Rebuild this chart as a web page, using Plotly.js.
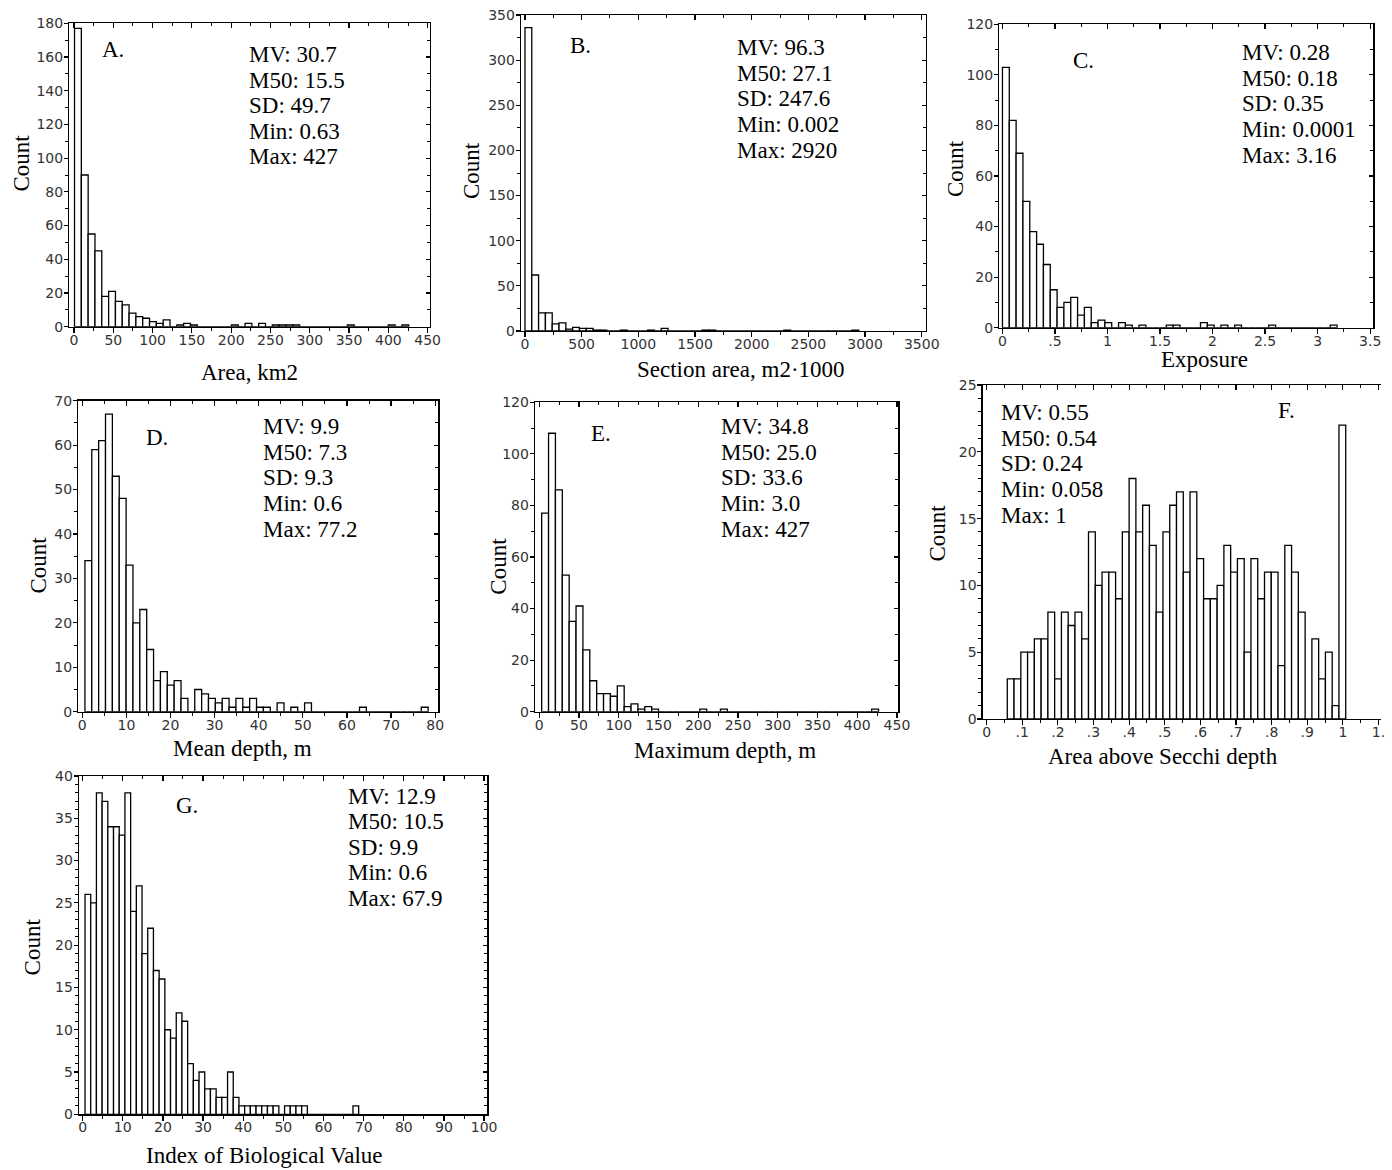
<!DOCTYPE html>
<html><head><meta charset="utf-8">
<script src="https://cdn.plot.ly/plotly-3.0.1.min.js"></script>
<style>html,body{margin:0;padding:0;background:#fff}</style>
</head><body><div id="chart" style="width:1392px;height:1170px"></div>
<script>
// ---------- DATA ----------
// A. Area, km2
const areaBinStart = 0.63, areaBinWidth = 8.68;
const areaCounts = [177,90,55,45,18,21,15,13,8,6,5,3,2,4,0,1,2,1,0,0,0,0,0,1,0,2,0,2,0,1,1,1,1,0,0,0,0,0,0,0,1,0,0,0,0,0,1,0,1];
const areaStats = ['MV: 30.7','M50: 15.5','SD: 49.7','Min: 0.63','Max: 427'];
// B. Section area
const sectionBinStart = 0.002, sectionBinWidth = 60.1;
const sectionCounts = [336,62,20,20,8,9,2,4,3,3,1,1,0,0,1,0,0,0,1,0,3,0,0,0,0,0,1,1,0,0,0,0,0,0,0,0,0,0,1,0,0,0,0,0,0,0,0,0,1];
const sectionStats = ['MV: 96.3','M50: 27.1','SD: 247.6','Min: 0.002','Max: 2920'];
// C. Exposure
const exposureBinStart = 0.0001, exposureBinWidth = 0.065;
const exposureCounts = [103,82,69,50,38,33,25,15,8,10,12,5,8,2,3,2,0,2,1,0,1,0,0,0,1,1,0,0,0,2,1,0,1,0,1,0,0,0,0,1,0,0,0,0,0,0,0,0,1];
const exposureStats = ['MV: 0.28','M50: 0.18','SD: 0.35','Min: 0.0001','Max: 3.16'];
const exposureTickVals = [0,0.5,1,1.5,2,2.5,3,3.5];
const exposureTickText = ['0','.5','1','1.5','2','2.5','3','3.5'];
// D. Mean depth
const meanDepthBinStart = 0.6, meanDepthBinWidth = 1.556;
const meanDepthCounts = [34,59,61,67,53,48,33,20,23,14,7,9,6,7,3,0,5,4,3,2,3,1,3,1,3,1,1,0,2,0,1,0,2,0,0,0,0,0,0,0,1,0,0,0,0,0,0,0,0,1];
const meanDepthStats = ['MV: 9.9','M50: 7.3','SD: 9.3','Min: 0.6','Max: 77.2'];
// E. Maximum depth
const maxDepthBinStart = 3.0, maxDepthBinWidth = 8.65;
const maxDepthCounts = [77,108,86,53,35,41,24,12,7,7,6,10,2,3,1,2,1,0,0,0,0,0,0,1,0,0,1,0,0,0,0,0,0,0,0,0,0,0,0,0,0,0,0,0,0,0,0,0,1];
const maxDepthStats = ['MV: 34.8','M50: 25.0','SD: 33.6','Min: 3.0','Max: 427'];
// F. Area above Secchi depth
const secchiBinStart = 0.058, secchiBinWidth = 0.019;
const secchiCounts = [3,3,5,5,6,6,8,3,8,7,8,6,14,10,11,11,9,14,18,14,16,13,8,14,16,17,11,17,12,9,9,10,13,11,12,5,12,9,11,11,4,13,11,8,0,6,3,5,1,22];
const secchiStats = ['MV: 0.55','M50: 0.54','SD: 0.24','Min: 0.058','Max: 1'];
const secchiTickVals = [0,0.1,0.2,0.3,0.4,0.5,0.6,0.7,0.8,0.9,1,1.1];
const secchiTickText = ['0','.1','.2','.3','.4','.5','.6','.7','.8','.9','1','1.'];
// G. Index of Biological Value
const ibvBinStart = 0.6, ibvBinWidth = 1.42;
const ibvCounts = [26,25,38,37,34,34,33,38,24,27,19,22,17,16,10,9,12,11,6,4,5,3,3,2,2,5,2,1,1,1,1,1,1,1,0,1,1,1,1,0,0,0,0,0,0,0,0,1];
const ibvStats = ['MV: 12.9','M50: 10.5','SD: 9.9','Min: 0.6','Max: 67.9'];

// ---------- LAYOUT ----------
const W = 1392, H = 1170;
const serif = 'Liberation Serif, Times New Roman, serif';
const panels = [
  {label:'A.', start:areaBinStart, width:areaBinWidth, counts:areaCounts, stats:areaStats, xTitle:'Area, km2',
   box:[69.3,430,23.3,326.7], xr:[-6,453], yr:[0,180], xd:50, xm:25, yd:20, ym:10,
   lab:[101.7,57.3], st:[249.3,62.3], xt:[250,372], yt:[21,163.5]},
  {label:'B.', start:sectionBinStart, width:sectionBinWidth, counts:sectionCounts, stats:sectionStats, xTitle:'Section area, m2·1000',
   box:[521,925.7,15,331], xr:[-35,3535], yr:[0,350], xd:500, xm:250, yd:50, ym:25,
   lab:[570,53.3], st:[736.7,55.5], xt:[741.5,369], yt:[471,171]},
  {label:'C.', start:exposureBinStart, width:exposureBinWidth, counts:exposureCounts, stats:exposureStats, xTitle:'Exposure',
   box:[999.3,1373.3,24.3,327.7], xr:[-0.03,3.53], yr:[0,120], xvals:exposureTickVals, xtext:exposureTickText, xm:0.25, yd:20, ym:10,
   lab:[1073.3,68.3], st:[1241.7,60.5], xt:[1204,359], yt:[956,169]},
  {label:'D.', start:meanDepthBinStart, width:meanDepthBinWidth, counts:meanDepthCounts, stats:meanDepthStats, xTitle:'Mean depth, m',
   box:[78.3,438.3,400.7,711.7], xr:[-0.9,80.7], yr:[0,70], xd:10, xm:5, yd:10, ym:5,
   lab:[145.7,445], st:[263.3,434.5], xt:[242.5,749], yt:[37.5,565]},
  {label:'E.', start:maxDepthBinStart, width:maxDepthBinWidth, counts:maxDepthCounts, stats:maxDepthStats, xTitle:'Maximum depth, m',
   box:[535,898.3,402.3,711.7], xr:[-5.4,451.7], yr:[0,120], xd:50, xm:25, yd:20, ym:10,
   lab:[590.7,441.7], st:[720.7,434.5], xt:[725,750.7], yt:[497.7,566]},
  {label:'F.', start:secchiBinStart, width:secchiBinWidth, counts:secchiCounts, stats:secchiStats, xTitle:'Area above Secchi depth',
   box:[982.7,1381,385,719], xr:[-0.011,1.107], yr:[0,25], xvals:secchiTickVals, xtext:secchiTickText, xm:0.05, yd:5, ym:1,
   lab:[1278.3,418.3], st:[1000.7,420.5], xt:[1162.5,756], yt:[937.5,533], noRight:true},
  {label:'G.', start:ibvBinStart, width:ibvBinWidth, counts:ibvCounts, stats:ibvStats, xTitle:'Index of Biological Value',
   box:[79,487.3,776,1114.3], xr:[-0.9,100.8], yr:[0,40], xd:10, xm:5, yd:5, ym:1,
   lab:[176,813.3], st:[348.3,803.8], xt:[264,1155.5], yt:[32.7,946.7]}
];

const layout = {
  width:W, height:H, margin:{l:0,r:0,t:0,b:0,pad:0},
  paper_bgcolor:'#ffffff', plot_bgcolor:'#ffffff', showlegend:false,
  bargap:0, annotations:[]
};
const data = [];
const tickFont = {family:'DejaVu Sans, sans-serif', size:14, color:'#333333'};
const serifFont = {family:serif, size:23, color:'#000000'};
const px2x = p => p / W;
const px2y = p => 1 - p / H;
const ASC = 7.8; // baseline -> bbox middle offset for 23px serif

function tickSpec(p, axis) {
  if (axis === 'x' && p.xvals) return {tickmode:'array', tickvals:p.xvals, ticktext:p.xtext};
  return {tickmode:'linear', tick0:0, dtick: axis === 'x' ? p.xd : p.yd};
}

panels.forEach((p, i) => {
  const n = i + 1, s = n === 1 ? '' : String(n);
  const o = n + 7, so = String(o);
  const [l, r, t, b] = p.box;
  const xDom = [px2x(l), px2x(r)], yDom = [px2y(b), px2y(t)];
  const common = {showgrid:false, zeroline:false, fixedrange:true, autorange:false};
  layout['xaxis' + s] = Object.assign({}, common, tickSpec(p, 'x'), {
    domain:xDom, anchor:'y' + s, range:p.xr,
    showline:true, linecolor:'#000', linewidth:1.3, mirror:true,
    ticks:'outside', ticklen:5, tickwidth:1.2, tickcolor:'#000',
    minor:{ticks:'outside', ticklen:3, tickwidth:1, tickcolor:'#000', dtick:p.xm, tick0:0},
    tickfont:tickFont, ticklabelstandoff:-5
  });
  layout['yaxis' + s] = Object.assign({}, common, tickSpec(p, 'y'), {
    domain:yDom, anchor:'x' + s, range:p.yr,
    showline:true, linecolor:'#000', linewidth:1.3, mirror:!p.noRight,
    ticks:'outside', ticklen:4, tickwidth:1.2, tickcolor:'#000',
    minor:{ticks:'outside', ticklen:3, tickwidth:1, tickcolor:'#000', dtick:p.ym, tick0:0},
    tickfont:tickFont, ticklabelstandoff:-2
  });
  // inward ticks on the top and right frame
  layout['xaxis' + so] = Object.assign({}, common, tickSpec(p, 'x'), {
    overlaying:'x' + s, side:'top', anchor:'y' + s, range:p.xr,
    showline:false, showticklabels:false,
    ticks:'inside', ticklen:5, tickwidth:1.2, tickcolor:'#000',
    minor:{ticks:'inside', ticklen:3, tickwidth:1, tickcolor:'#000', dtick:p.xm, tick0:0}
  });
  layout['yaxis' + so] = Object.assign({}, common, tickSpec(p, 'y'), {
    overlaying:'y' + s, side:'right', anchor:'x' + s, range:p.yr,
    showline:false, showticklabels:false,
    ticks: p.noRight ? '' : 'inside', ticklen:4, tickwidth:1.2, tickcolor:'#000',
    minor:{ticks: p.noRight ? '' : 'inside', ticklen:3, tickwidth:1, tickcolor:'#000', dtick:p.ym, tick0:0}
  });

  const centers = p.counts.map((_, k) => p.start + p.width * (k + 0.5));
  data.push({
    type:'bar', x:centers, y:p.counts, width:p.width,
    xaxis:'x' + s, yaxis:'y' + s,
    marker:{color:'#ffffff', line:{color:'#000000', width:1.3}},
    hoverinfo:'skip'
  });
  data.push({type:'scatter', mode:'markers', x:[], y:[], xaxis:'x' + so, yaxis:'y' + so, hoverinfo:'skip'});

  const ann = layout.annotations;
  ann.push({text:p.label, xref:'paper', yref:'paper', x:px2x(p.lab[0] - 2), y:px2y(p.lab[1] - ASC),
            xanchor:'left', yanchor:'middle', showarrow:false, font:serifFont});
  p.stats.forEach((line, j) => {
    ann.push({text:line, xref:'paper', yref:'paper', x:px2x(p.st[0] - 2), y:px2y(p.st[1] + j * 25.6 - ASC),
              xanchor:'left', yanchor:'middle', showarrow:false, font:serifFont});
  });
  ann.push({text:p.xTitle, xref:'paper', yref:'paper', x:px2x(p.xt[0]), y:px2y(p.xt[1]),
            xanchor:'center', yanchor:'middle', showarrow:false, font:serifFont});
  ann.push({text:'Count', xref:'paper', yref:'paper', x:px2x(p.yt[0]), y:px2y(p.yt[1]), textangle:-90,
            xanchor:'center', yanchor:'middle', showarrow:false, font:serifFont});
});

Plotly.newPlot('chart', data, layout, {staticPlot:true, displayModeBar:false});
</script>
</body></html>
